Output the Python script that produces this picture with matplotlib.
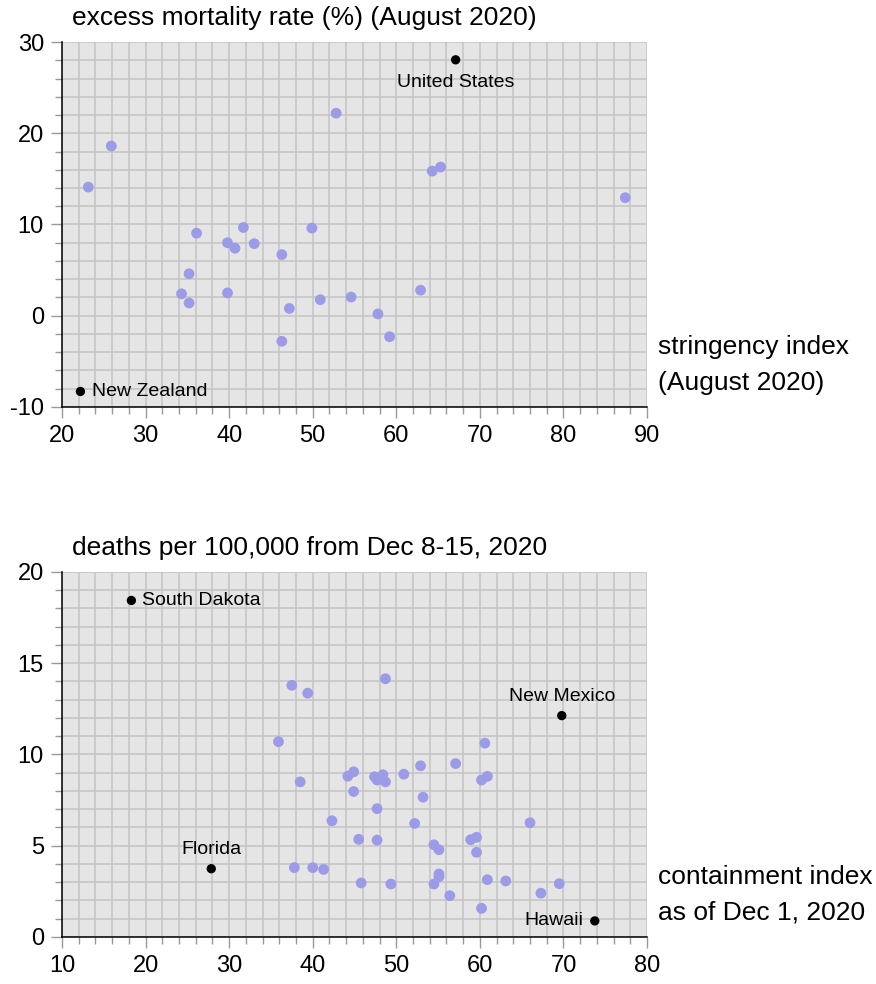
import numpy as np
import matplotlib
matplotlib.use("Agg")
import matplotlib.pyplot as plt
from matplotlib.ticker import MultipleLocator

plt.rcParams['font.family'] = ['Liberation Sans', 'DejaVu Sans']
plt.rcParams['axes.unicode_minus'] = False

# top panel: countries, stringency vs excess mortality (August 2020)
str_x = [23.15, 25.9, 34.3, 35.2, 35.2, 36.1, 39.8, 39.8, 40.7, 41.7, 43.0, 46.3, 46.3,
         47.2, 49.9, 50.9, 52.8, 54.6, 57.8, 59.2, 62.9, 64.3, 65.3, 87.4]
mort_y = [14.1, 18.6, 2.4, 4.6, 1.4, 9.05, 8.0, 2.5, 7.4, 9.67, 7.9, 6.7, -2.8,
          0.8, 9.6, 1.76, 22.2, 2.05, 0.2, -2.3, 2.8, 15.85, 16.3, 12.94]
top_names = ['United States', 'New Zealand']
top_hx = [67.1, 22.2]
top_hy = [28.05, -8.3]

# bottom panel: US states, containment index vs deaths per 100k
cont_x = [35.9, 38.5, 44.2, 44.9, 44.9, 47.4, 47.7, 48.4, 48.7, 50.9, 52.9, 53.2, 47.7,
          42.3, 52.2, 45.5, 47.7, 54.5, 55.1, 37.8, 40.0, 41.3, 45.8, 49.35, 54.5, 55.1,
          55.1, 60.6, 57.1, 60.2, 60.9, 66.0, 58.9, 59.6, 59.6, 60.9, 63.1, 69.5, 56.4,
          67.3, 60.2, 37.5, 39.4, 48.7]
death_y = [10.7, 8.5, 8.81, 9.05, 7.97, 8.78, 8.6, 8.89, 8.5, 8.92, 9.38, 7.66, 7.03,
           6.37, 6.22, 5.35, 5.31, 5.05, 4.78, 3.80, 3.80, 3.7, 2.96, 2.9, 2.9, 3.45,
           3.3, 10.62, 9.5, 8.6, 8.8, 6.26, 5.33, 5.46, 4.64, 3.14, 3.07, 2.92, 2.26,
           2.4, 1.57, 13.79, 13.36, 14.15]
bot_names = ['South Dakota', 'New Mexico', 'Florida', 'Hawaii']
bot_hx = [18.3, 69.8, 27.86, 73.75]
bot_hy = [18.44, 12.13, 3.74, 0.88]

dot = '#9b9be8'
bg = '#e5e5e5'
gridc = '#c4c4c4'

fig = plt.figure(figsize=(8.76, 9.84), dpi=100)
ax1 = fig.add_axes([0.0708, 0.5864, 0.6678, 0.3709])
ax2 = fig.add_axes([0.0708, 0.0478, 0.6678, 0.3709])


def style(ax, xlim, ylim, xmaj, xmin, ymaj, ymin):
    ax.set_facecolor(bg)
    ax.set_xlim(*xlim)
    ax.set_ylim(*ylim)
    ax.xaxis.set_major_locator(MultipleLocator(xmaj))
    ax.xaxis.set_minor_locator(MultipleLocator(xmin))
    ax.yaxis.set_major_locator(MultipleLocator(ymaj))
    ax.yaxis.set_minor_locator(MultipleLocator(ymin))
    ax.grid(True, which='both', color=gridc, lw=1.1)
    ax.set_axisbelow(True)
    for s in ['top', 'right']:
        ax.spines[s].set_visible(False)
    for s in ['left', 'bottom']:
        ax.spines[s].set_linewidth(1.1)
        ax.spines[s].set_zorder(3)
    ax.tick_params(which='major', length=8, width=1, labelsize=17, pad=5, color='#999999')
    ax.tick_params(which='minor', length=5, width=1, color='#999999')


style(ax1, (20, 90), (-10, 30), 10, 2, 10, 2)
style(ax2, (10, 80), (0, 20), 10, 2, 5, 1)

ax1.scatter(str_x, mort_y, s=60, color=dot, edgecolors='none', zorder=4, clip_on=False)
ax1.scatter(top_hx, top_hy, s=45, color='black', edgecolors='none', zorder=5, clip_on=False)
ax1.annotate(top_names[0], (top_hx[0], top_hy[0]), xytext=(0, -16), textcoords='offset points',
             ha='center', va='center', fontsize=14)
ax1.annotate(top_names[1], (top_hx[1], top_hy[1]), xytext=(8, 0), textcoords='offset points',
             ha='left', va='center', fontsize=14)

ax2.scatter(cont_x, death_y, s=60, color=dot, edgecolors='none', zorder=4, clip_on=False)
ax2.scatter(bot_hx, bot_hy, s=45, color='black', edgecolors='none', zorder=5, clip_on=False)
ax2.annotate(bot_names[0], (bot_hx[0], bot_hy[0]), xytext=(8, 0), textcoords='offset points',
             ha='left', va='center', fontsize=14)
ax2.annotate(bot_names[1], (bot_hx[1], bot_hy[1]), xytext=(0, 14), textcoords='offset points',
             ha='center', va='center', fontsize=14)
ax2.annotate(bot_names[2], (bot_hx[2], bot_hy[2]), xytext=(0, 14), textcoords='offset points',
             ha='center', va='center', fontsize=14)
ax2.annotate(bot_names[3], (bot_hx[3], bot_hy[3]), xytext=(-8, 0), textcoords='offset points',
             ha='right', va='center', fontsize=14)

fig.text(72 / 876, 1 - 18 / 984, 'excess mortality rate (%) (August 2020)', fontsize=19,
         ha='left', va='center')
fig.text(658 / 876, 1 - 365 / 984, 'stringency index\n(August 2020)', fontsize=19,
         ha='left', va='center', linespacing=1.6)
fig.text(72 / 876, 1 - 548 / 984, 'deaths per 100,000 from Dec 8-15, 2020', fontsize=19,
         ha='left', va='center')
fig.text(658 / 876, 1 - 895 / 984, 'containment index\nas of Dec 1, 2020', fontsize=19,
         ha='left', va='center', linespacing=1.6)

fig.savefig('out.png', dpi=100)
